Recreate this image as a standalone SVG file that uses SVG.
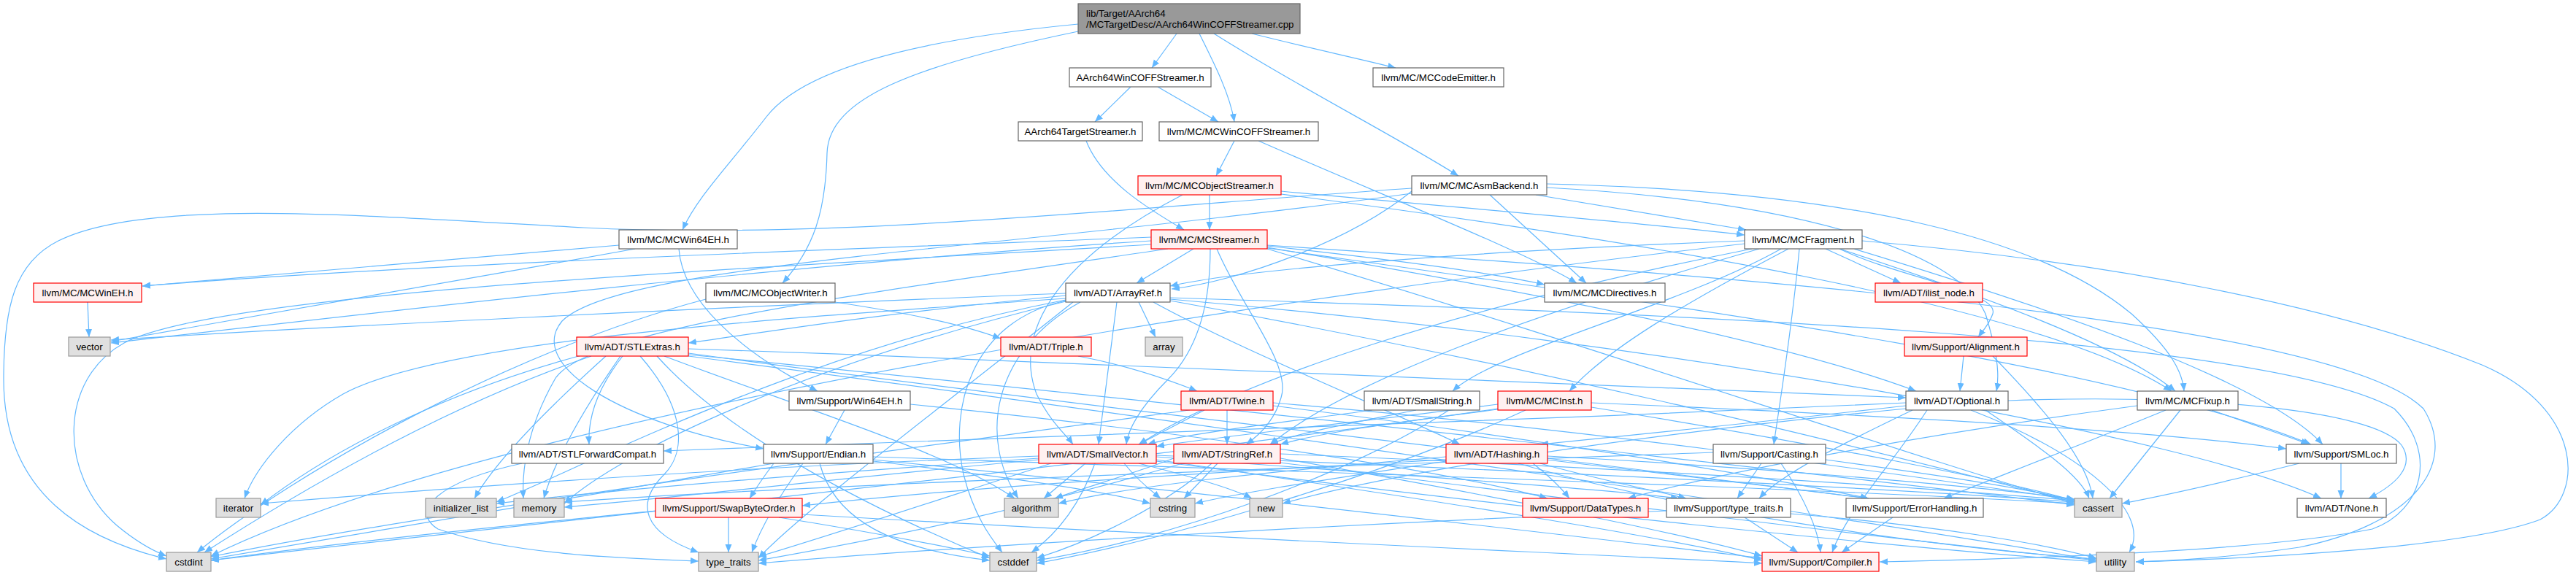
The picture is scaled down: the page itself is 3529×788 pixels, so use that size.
<svg xmlns="http://www.w3.org/2000/svg" width="3529" height="788" viewBox="0 0 3529 788">
<style>
rect{stroke-width:1.2}
.n rect{fill:#ffffff;stroke:#666666}
.r rect{fill:#FFF0F0;stroke:#FF0000}
.g rect{fill:#E0E0E0;stroke:#999999}
.m rect{fill:#999999;stroke:#666666}
text{font-family:"Liberation Sans",Arial,Helvetica,sans-serif;font-size:13.3px;text-anchor:middle;fill:#000000}
.m text{text-anchor:start}
#edges path{fill:none;stroke:#63B8FF;stroke-width:1.2;marker-end:url(#arr)}
</style>
<defs>
<marker id="arr" markerUnits="userSpaceOnUse" markerWidth="12" markerHeight="10" refX="11" refY="4.5" orient="auto">
<path d="M0,0 L11,4.5 L0,9 z" fill="#63B8FF"/>
</marker>
</defs>
<rect x="0" y="0" width="3529" height="788" fill="#ffffff"/>
<g id="edges">
<path d="M1612,46 L1578,93"/>
<path d="M1643,46 C1665,90 1685,130 1691,167"/>
<path d="M1663,46 C1780,120 1900,180 1998,241"/>
<path d="M1715,46 C1790,65 1860,80 1912,93"/>
<path d="M1477,33 C1250,55 1100,95 1050,160 C1000,225 955,270 935,315"/>
<path d="M1477,43 C1250,90 1135,135 1133,210 C1131,290 1115,340 1072,388"/>
<path d="M1549,119 L1500,167"/>
<path d="M1586,119 L1669,167"/>
<path d="M1488,193 C1510,250 1580,290 1622,315"/>
<path d="M1691,193 L1666,241"/>
<path d="M1724,193 C1900,270 2100,350 2160,388"/>
<path d="M1657,267 L1657,315"/>
<path d="M1620,267 C1440,360 1390,460 1420,540 C1440,580 1460,595 1470,609"/>
<path d="M1755,262 C2000,285 2250,305 2390,322"/>
<path d="M1755,266 C2250,330 2800,420 2975,536"/>
<path d="M2104,267 L2392,315"/>
<path d="M2041,267 L2173,388"/>
<path d="M2119,252 C2550,262 2800,330 2920,430 C2975,480 2990,510 2992,536"/>
<path d="M2119,257 C2450,275 2680,340 2720,430 C2735,480 2740,510 2735,536"/>
<path d="M1934,262 C1850,330 1700,385 1605,396"/>
<path d="M1934,265 C1400,340 850,360 770,440 C720,500 850,580 1046,615"/>
<path d="M1934,258 C1600,280 1150,330 800,312 C500,296 200,270 80,330 C20,360 5,420 5,520 C5,680 120,740 228,766"/>
<path d="M848,336 L195,392"/>
<path d="M930,341 C935,410 1010,480 1120,536"/>
<path d="M870,341 C600,390 300,440 152,468"/>
<path d="M1635,341 L1557,388"/>
<path d="M1658,341 C1658,420 1640,480 1600,520 C1560,560 1545,590 1543,609"/>
<path d="M1667,341 C1700,420 1770,500 1755,545 C1745,580 1720,600 1707,609"/>
<path d="M1736,337 C1900,355 2050,375 2116,390"/>
<path d="M1736,339 C2100,400 2450,470 2625,536"/>
<path d="M1736,340 C2300,420 2900,500 3166,609"/>
<path d="M1736,341 C2200,480 2600,620 2842,690"/>
<path d="M1736,336 C2400,380 3200,440 3320,560 C3370,640 3300,720 3150,750 C3050,765 2980,768 2926,770"/>
<path d="M1577,325 C1200,340 600,360 195,392"/>
<path d="M1577,330 C1100,360 500,430 152,470"/>
<path d="M1577,335 C1000,370 300,400 170,470 C80,520 80,650 160,720 C190,745 210,755 228,762"/>
<path d="M1600,341 C1200,400 800,450 760,520 C720,590 715,650 717,683"/>
<path d="M2390,330 C2000,345 1700,370 1603,392"/>
<path d="M2501,341 L2604,388"/>
<path d="M2520,341 C2600,380 2740,400 2730,430 C2725,445 2715,455 2710,462"/>
<path d="M2440,341 C2300,420 2050,480 1990,536"/>
<path d="M2400,341 C2000,420 1700,520 1560,609"/>
<path d="M2410,341 C2100,430 1850,520 1740,609"/>
<path d="M2450,341 C2300,420 2200,480 2150,536"/>
<path d="M2520,341 C2700,400 2900,470 2980,536"/>
<path d="M2465,341 C2455,450 2440,540 2430,609"/>
<path d="M2540,341 C2800,420 3100,520 3182,609"/>
<path d="M2390,334 C1800,400 700,560 289,762"/>
<path d="M2551,330 C2900,360 3200,420 3400,500 C3540,560 3540,680 3480,712 C3380,750 3100,765 2926,770"/>
<path d="M120,414 L122,462"/>
<path d="M1144,414 C1250,430 1320,445 1371,464"/>
<path d="M967,410 C700,480 400,650 270,757"/>
<path d="M1560,414 L1583,462"/>
<path d="M1530,414 L1505,609"/>
<path d="M1460,405 C1200,430 1050,455 943,470"/>
<path d="M1580,414 C1700,480 1900,560 2000,609"/>
<path d="M1603,410 C2300,470 3000,600 3180,683"/>
<path d="M1603,408 C2300,430 3100,460 3280,560 C3340,620 3320,700 3250,725 C3100,755 2800,765 2575,770"/>
<path d="M1480,414 C1360,480 1340,600 1395,683"/>
<path d="M1603,412 C2200,520 2650,640 2842,688"/>
<path d="M1460,412 C1330,440 1300,560 1320,650 C1335,710 1360,740 1373,757"/>
<path d="M1460,411 C1100,480 800,640 680,688"/>
<path d="M1460,409 C1000,440 600,470 470,540 C400,580 350,640 335,683"/>
<path d="M1460,413 C1100,500 850,620 773,690"/>
<path d="M1470,414 C1300,550 1100,700 1039,765"/>
<path d="M1460,402 C1000,420 400,450 152,466"/>
<path d="M853,488 C820,530 805,570 807,609"/>
<path d="M943,478 C1600,500 2300,530 2611,545"/>
<path d="M943,484 C1500,560 2300,650 2560,683"/>
<path d="M910,488 C1100,560 1300,620 1390,683"/>
<path d="M943,486 C1700,560 2500,650 2842,692"/>
<path d="M900,488 C1000,600 1200,700 1356,765"/>
<path d="M810,488 C600,560 400,680 280,757"/>
<path d="M830,488 C750,560 680,630 650,683"/>
<path d="M800,486 C600,540 450,620 357,692"/>
<path d="M850,488 C800,560 760,630 745,683"/>
<path d="M877,488 C940,560 940,620 910,650 C870,690 880,730 957,757"/>
<path d="M943,488 C1800,600 2600,720 2872,768"/>
<path d="M1477,488 C1540,500 1600,520 1640,536"/>
<path d="M2690,488 L2685,536"/>
<path d="M2730,488 C2800,560 2860,630 2867,683"/>
<path d="M1247,554 C1700,600 2000,650 2120,683"/>
<path d="M1157,562 L1131,609"/>
<path d="M1681,562 L1681,609"/>
<path d="M1650,562 L1560,609"/>
<path d="M1744,556 C2100,600 2400,650 2560,683"/>
<path d="M1744,552 C2200,590 2600,650 2842,685"/>
<path d="M1630,562 C1200,620 600,700 289,763"/>
<path d="M1880,562 C1750,580 1620,595 1572,609"/>
<path d="M1940,562 C1850,580 1770,595 1740,609"/>
<path d="M1985,562 C1850,650 1600,740 1420,768"/>
<path d="M2052,554 C1850,580 1650,600 1584,612"/>
<path d="M2060,560 C1900,580 1800,595 1754,609"/>
<path d="M2180,552 C2600,570 2950,590 3132,615"/>
<path d="M2180,558 C2500,610 2750,660 2842,686"/>
<path d="M2090,562 C1900,650 1600,740 1420,772"/>
<path d="M2052,560 C1500,640 700,720 289,768"/>
<path d="M2611,556 C2400,580 2200,600 2110,609"/>
<path d="M2751,549 C3000,540 3250,560 3290,610 C3310,640 3280,665 3245,683"/>
<path d="M2611,552 C2000,580 1300,605 909,618"/>
<path d="M2640,562 C2590,640 2530,700 2510,757"/>
<path d="M2620,562 C2520,610 2440,650 2410,683"/>
<path d="M2720,562 C2790,610 2850,650 2862,683"/>
<path d="M2611,560 C2200,600 1900,650 1757,690"/>
<path d="M2700,562 C2850,620 2950,700 2917,757"/>
<path d="M2928,556 C2600,600 2350,650 2230,683"/>
<path d="M2967,562 C2850,610 2720,660 2663,683"/>
<path d="M3030,562 C3080,580 3140,600 3163,609"/>
<path d="M2987,562 L2890,683"/>
<path d="M715,635 C600,660 560,700 600,725 C700,760 850,765 957,769"/>
<path d="M1060,635 C1045,655 1035,670 1027,683"/>
<path d="M1196,626 C1900,650 2500,670 2842,690"/>
<path d="M1123,635 C1140,700 1200,750 1356,768"/>
<path d="M1060,635 C800,680 500,730 289,766"/>
<path d="M1196,632 C1350,650 1500,670 1576,690"/>
<path d="M1100,635 C1060,690 1040,730 1030,757"/>
<path d="M1196,630 C1700,680 2200,740 2414,765"/>
<path d="M1584,630 C2000,690 2300,740 2414,768"/>
<path d="M1584,626 C1900,650 2200,670 2300,683"/>
<path d="M1487,635 L1430,683"/>
<path d="M1584,624 C2200,650 2600,670 2842,688"/>
<path d="M1500,635 C1480,690 1450,730 1413,757"/>
<path d="M1540,635 C1560,660 1580,675 1590,683"/>
<path d="M1423,628 C1100,650 850,670 680,690"/>
<path d="M1423,625 C1000,640 600,670 357,690"/>
<path d="M1423,630 C1100,660 900,685 773,695"/>
<path d="M1560,635 C1640,655 1690,670 1715,683"/>
<path d="M1440,635 C1300,680 1150,730 1039,763"/>
<path d="M1584,632 C2100,700 2600,750 2872,770"/>
<path d="M1754,628 C2050,680 2300,730 2414,762"/>
<path d="M1608,628 C1550,650 1480,670 1445,683"/>
<path d="M1754,622 C2200,640 2600,665 2842,686"/>
<path d="M1660,635 C1600,690 1500,740 1420,765"/>
<path d="M1668,635 L1622,683"/>
<path d="M1620,635 C1400,700 1200,740 1039,768"/>
<path d="M1754,634 C2200,690 2600,740 2872,768"/>
<path d="M2100,635 C2120,650 2140,670 2150,683"/>
<path d="M2120,628 C2300,650 2450,670 2560,683"/>
<path d="M1981,630 C1600,650 1300,670 1099,693"/>
<path d="M2110,635 C2200,660 2280,675 2310,683"/>
<path d="M1981,626 C1750,645 1550,665 1450,690"/>
<path d="M2120,625 C2400,640 2700,665 2842,684"/>
<path d="M1981,632 C1800,660 1700,675 1637,690"/>
<path d="M2080,635 C2300,700 2650,750 2872,766"/>
<path d="M2440,635 C2470,680 2490,720 2494,757"/>
<path d="M2413,635 L2380,683"/>
<path d="M2501,630 C2650,650 2780,670 2842,686"/>
<path d="M2347,620 C1800,640 1100,665 773,688"/>
<path d="M3207,635 L3207,683"/>
<path d="M3150,635 C3050,660 2960,680 2907,690"/>
<path d="M1067,709 C1200,730 1300,750 1356,762"/>
<path d="M1099,705 C1700,740 2200,760 2414,772"/>
<path d="M898,700 C700,720 450,745 289,768"/>
<path d="M998,709 L998,757"/>
<path d="M2390,709 L2463,757"/>
<path d="M2283,700 C1800,720 1300,750 1039,772"/>
<path d="M2453,704 C2650,720 2800,745 2872,765"/>
<path d="M2593,709 L2523,757"/>
</g>
<g id="node-main" class="m"><rect x="1477" y="5" width="304" height="41"/><text x="1488" y="22.7">lib/Target/AArch64</text><text x="1488" y="37.7">/MCTargetDesc/AArch64WinCOFFStreamer.cpp</text></g>
<g id="node-a64wcs" class="n"><rect x="1465" y="93" width="194" height="26"/><text x="1562" y="110.7">AArch64WinCOFFStreamer.h</text></g>
<g id="node-codeem" class="n"><rect x="1881" y="93" width="179" height="26"/><text x="1970.5" y="110.7">llvm/MC/MCCodeEmitter.h</text></g>
<g id="node-a64ts" class="n"><rect x="1395" y="167" width="170" height="26"/><text x="1480" y="184.7">AArch64TargetStreamer.h</text></g>
<g id="node-mcwcs" class="n"><rect x="1588" y="167" width="218" height="26"/><text x="1697" y="184.7">llvm/MC/MCWinCOFFStreamer.h</text></g>
<g id="node-mcos" class="r"><rect x="1559" y="241" width="196" height="26"/><text x="1657" y="258.7">llvm/MC/MCObjectStreamer.h</text></g>
<g id="node-asmb" class="n"><rect x="1934" y="241" width="185" height="26"/><text x="2026.5" y="258.7">llvm/MC/MCAsmBackend.h</text></g>
<g id="node-w64eh" class="n"><rect x="848" y="315" width="162" height="26"/><text x="929" y="332.7">llvm/MC/MCWin64EH.h</text></g>
<g id="node-mcs" class="r"><rect x="1577" y="315" width="159" height="26"/><text x="1656.5" y="332.7">llvm/MC/MCStreamer.h</text></g>
<g id="node-frag" class="n"><rect x="2390" y="315" width="161" height="26"/><text x="2470.5" y="332.7">llvm/MC/MCFragment.h</text></g>
<g id="node-wineh" class="r"><rect x="46" y="388" width="148" height="26"/><text x="120" y="405.7">llvm/MC/MCWinEH.h</text></g>
<g id="node-objw" class="n"><rect x="967" y="388" width="177" height="26"/><text x="1055.5" y="405.7">llvm/MC/MCObjectWriter.h</text></g>
<g id="node-aref" class="n"><rect x="1460" y="388" width="143" height="26"/><text x="1531.5" y="405.7">llvm/ADT/ArrayRef.h</text></g>
<g id="node-dirs" class="n"><rect x="2116" y="388" width="165" height="26"/><text x="2198.5" y="405.7">llvm/MC/MCDirectives.h</text></g>
<g id="node-ilist" class="r"><rect x="2569" y="388" width="147" height="26"/><text x="2642.5" y="405.7">llvm/ADT/ilist_node.h</text></g>
<g id="node-vector" class="g"><rect x="94" y="462" width="57" height="26"/><text x="122.5" y="479.7">vector</text></g>
<g id="node-stlx" class="r"><rect x="790" y="462" width="153" height="26"/><text x="866.5" y="479.7">llvm/ADT/STLExtras.h</text></g>
<g id="node-triple" class="r"><rect x="1371" y="462" width="124" height="26"/><text x="1433" y="479.7">llvm/ADT/Triple.h</text></g>
<g id="node-array" class="g"><rect x="1569" y="462" width="51" height="26"/><text x="1594.5" y="479.7">array</text></g>
<g id="node-align" class="r"><rect x="2609" y="462" width="168" height="26"/><text x="2693" y="479.7">llvm/Support/Alignment.h</text></g>
<g id="node-sw64" class="n"><rect x="1081" y="536" width="166" height="26"/><text x="1164" y="553.7">llvm/Support/Win64EH.h</text></g>
<g id="node-twine" class="r"><rect x="1618" y="536" width="126" height="26"/><text x="1681" y="553.7">llvm/ADT/Twine.h</text></g>
<g id="node-sstr" class="n"><rect x="1869" y="536" width="158" height="26"/><text x="1948" y="553.7">llvm/ADT/SmallString.h</text></g>
<g id="node-inst" class="r"><rect x="2052" y="536" width="128" height="26"/><text x="2116" y="553.7">llvm/MC/MCInst.h</text></g>
<g id="node-opt" class="n"><rect x="2611" y="536" width="140" height="26"/><text x="2681" y="553.7">llvm/ADT/Optional.h</text></g>
<g id="node-fixup" class="n"><rect x="2928" y="536" width="138" height="26"/><text x="2997" y="553.7">llvm/MC/MCFixup.h</text></g>
<g id="node-stlfc" class="n"><rect x="701" y="609" width="208" height="26"/><text x="805" y="626.7">llvm/ADT/STLForwardCompat.h</text></g>
<g id="node-endian" class="n"><rect x="1046" y="609" width="150" height="26"/><text x="1121" y="626.7">llvm/Support/Endian.h</text></g>
<g id="node-svec" class="r"><rect x="1423" y="609" width="161" height="26"/><text x="1503.5" y="626.7">llvm/ADT/SmallVector.h</text></g>
<g id="node-sref" class="r"><rect x="1608" y="609" width="146" height="26"/><text x="1681" y="626.7">llvm/ADT/StringRef.h</text></g>
<g id="node-hash" class="r"><rect x="1981" y="609" width="139" height="26"/><text x="2050.5" y="626.7">llvm/ADT/Hashing.h</text></g>
<g id="node-cast" class="n"><rect x="2347" y="609" width="154" height="26"/><text x="2424" y="626.7">llvm/Support/Casting.h</text></g>
<g id="node-smloc" class="n"><rect x="3132" y="609" width="151" height="26"/><text x="3207.5" y="626.7">llvm/Support/SMLoc.h</text></g>
<g id="node-iterator" class="g"><rect x="296" y="683" width="61" height="26"/><text x="326.5" y="700.7">iterator</text></g>
<g id="node-initl" class="g"><rect x="583" y="683" width="97" height="26"/><text x="631.5" y="700.7">initializer_list</text></g>
<g id="node-memory" class="g"><rect x="704" y="683" width="69" height="26"/><text x="738.5" y="700.7">memory</text></g>
<g id="node-swap" class="r"><rect x="898" y="683" width="201" height="26"/><text x="998.5" y="700.7">llvm/Support/SwapByteOrder.h</text></g>
<g id="node-algorithm" class="g"><rect x="1376" y="683" width="74" height="26"/><text x="1413" y="700.7">algorithm</text></g>
<g id="node-cstring" class="g"><rect x="1576" y="683" width="61" height="26"/><text x="1606.5" y="700.7">cstring</text></g>
<g id="node-new" class="g"><rect x="1712" y="683" width="45" height="26"/><text x="1734.5" y="700.7">new</text></g>
<g id="node-dtypes" class="r"><rect x="2086" y="683" width="172" height="26"/><text x="2172" y="700.7">llvm/Support/DataTypes.h</text></g>
<g id="node-stt" class="n"><rect x="2283" y="683" width="170" height="26"/><text x="2368" y="700.7">llvm/Support/type_traits.h</text></g>
<g id="node-errh" class="n"><rect x="2529" y="683" width="188" height="26"/><text x="2623" y="700.7">llvm/Support/ErrorHandling.h</text></g>
<g id="node-cassert" class="g"><rect x="2842" y="683" width="65" height="26"/><text x="2874.5" y="700.7">cassert</text></g>
<g id="node-none" class="n"><rect x="3147" y="683" width="122" height="26"/><text x="3208" y="700.7">llvm/ADT/None.h</text></g>
<g id="node-cstdint" class="g"><rect x="228" y="757" width="61" height="26"/><text x="258.5" y="774.7">cstdint</text></g>
<g id="node-typetr" class="g"><rect x="957" y="757" width="82" height="26"/><text x="998" y="774.7">type_traits</text></g>
<g id="node-cstddef" class="g"><rect x="1356" y="757" width="64" height="26"/><text x="1388" y="774.7">cstddef</text></g>
<g id="node-compiler" class="r"><rect x="2414" y="757" width="160" height="26"/><text x="2494" y="774.7">llvm/Support/Compiler.h</text></g>
<g id="node-utility" class="g"><rect x="2872" y="757" width="52" height="26"/><text x="2898" y="774.7">utility</text></g>
</svg>
